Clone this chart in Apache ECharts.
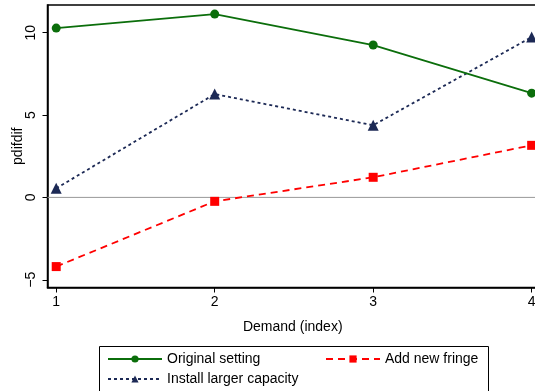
<!DOCTYPE html>
<html><head><meta charset="utf-8">
<script src="https://cdn.jsdelivr.net/npm/echarts@6/dist/echarts.min.js"></script>
<style>html,body{margin:0;padding:0;background:#fff}#c{width:535px;height:391px}</style>
</head><body><div id="c"></div>
<script>
var demand = [1, 2, 3, 4];
var original = [10.28, 11.13, 9.25, 6.33];
var install = [0.55, 6.27, 4.38, 9.73];
var fringe = [-4.2, -0.24, 1.22, 3.16];
var yTicks = [-5, 0, 5, 10];
var xTicks = [1, 2, 3, 4];

function pts(v){ return demand.map(function(d,i){ return [d, v[i]]; }); }
var font = 'Liberation Sans, Arial, sans-serif';
var chart = echarts.init(document.getElementById('c'));
chart.setOption({
  animation: false,
  grid: {left: 47.5, right: -3, top: 5, bottom: 103.5, show: true, borderColor: '#000', borderWidth: 1.5,
    backgroundColor: '#fff', containLabel: false, outerBoundsMode: 'none'},
  xAxis: {
    type: 'value', min: 0.945, max: 4.04, interval: 1,
    name: 'Demand (index)', nameLocation: 'middle', nameGap: 33, nameMoveOverlap: false,
    nameTextStyle: {fontFamily: font, fontSize: 14, color: '#000'},
    axisLine: {show: true, onZero: false, lineStyle: {color: '#000', width: 1.5}},
    axisTick: {show: true, length: 5, lineStyle: {color: '#000'}, customValues: xTicks},
    axisLabel: {fontFamily: font, fontSize: 14, color: '#000', margin: 8, customValues: xTicks,
      formatter: function(v){ return xTicks.indexOf(v) >= 0 ? String(v) : ''; }},
    splitLine: {show: false}
  },
  yAxis: {
    type: 'value', min: -5.47, max: 11.68,
    name: 'pdifdif', nameLocation: 'middle', nameGap: 22, nameMoveOverlap: false,
    nameTextStyle: {fontFamily: font, fontSize: 14, color: '#000'},
    axisLine: {show: true, onZero: false, lineStyle: {color: '#000', width: 1.5}},
    axisTick: {show: true, length: 5, lineStyle: {color: '#000'}, customValues: yTicks},
    axisLabel: {fontFamily: font, fontSize: 14, color: '#000', rotate: 90, margin: 9, customValues: yTicks,
      formatter: function(v){ return v < 0 ? '\u2212' + Math.abs(v) : String(v); }},
    splitLine: {show: false}
  },
  legend: [{
    data: ['Original setting', 'Install larger capacity'],
    orient: 'vertical', left: 102, top: 347, itemWidth: 54, itemHeight: 9, itemGap: 6,
    textStyle: {fontFamily: font, fontSize: 14, color: '#000'}
  }, {
    data: ['Add new fringe'],
    orient: 'vertical', left: 320, top: 347, itemWidth: 54, itemHeight: 9, itemGap: 6,
    textStyle: {fontFamily: font, fontSize: 14, color: '#000'}
  }],
  graphic: [{
    type: 'rect', shape: {x: 99.5, y: 346.5, width: 389, height: 60},
    style: {fill: null, stroke: '#000', lineWidth: 1}, silent: true
  }],
  series: [{
    name: 'zero', type: 'line', data: [[0.945, 0], [4.04, 0]], symbol: 'none',
    lineStyle: {color: '#999', width: 1}, silent: true, z: 1
  }, {
    name: 'Original setting', type: 'line', data: pts(original),
    symbol: 'circle', symbolSize: 9, color: '#0b6e0b',
    lineStyle: {color: '#0b6e0b', width: 1.8, type: 'solid'}, z: 5
  }, {
    name: 'Install larger capacity', type: 'line', data: pts(install),
    symbol: 'triangle', symbolSize: 11, color: '#1c2955',
    lineStyle: {color: '#1c2955', width: 1.8, type: [3, 3]}, z: 4
  }, {
    name: 'Add new fringe', type: 'line', data: pts(fringe),
    symbol: 'rect', symbolSize: 9, color: '#ff0000',
    lineStyle: {color: '#ff0000', width: 1.8, type: [7, 5]}, z: 3
  }]
});
</script></body></html>
